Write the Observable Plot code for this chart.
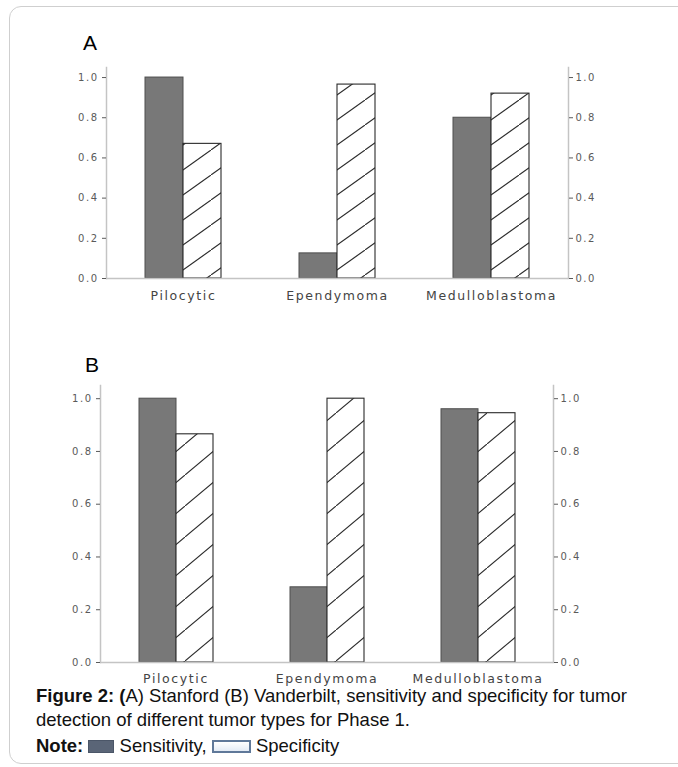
<!DOCTYPE html>
<html>
<head>
<meta charset="utf-8">
<script src="https://cdn.jsdelivr.net/npm/d3@7"></script>
<script src="https://cdn.jsdelivr.net/npm/@observablehq/plot@0.6"></script>
<style>
  html, body { margin: 0; padding: 0; background: #fff; }
  #page { position: relative; width: 678px; height: 767px; overflow: hidden; font-family: "Liberation Sans", Arial, sans-serif; }
  #border { position: absolute; left: 9px; top: 6px; width: 720px; height: 756px; border: 1px solid #cfcfcf; border-radius: 12px; }
  .panel-letter { position: absolute; font-size: 21px; line-height: 21px; color: #000; }
  .chart { position: absolute; left: 0; }
  .cap { position: absolute; left: 36px; font-size: 18.5px; line-height: 18px; color: #111; white-space: nowrap; }
  .sw { display: inline-block; vertical-align: -1px; box-sizing: border-box; }
  .sw-sens { width: 26px; height: 13px; background: #5a6577; border: 1px solid #4b5668; }
  .sw-spec { width: 39px; height: 13px; background: linear-gradient(#ffffff, #e3ebf5); border: 2px solid #5f7899; }
</style>
</head>
<body>
<div id="page">
  <div id="border"></div>
  <div class="panel-letter" style="left:83px; top:32px;">A</div>
  <div class="panel-letter" style="left:85px; top:354px;">B</div>
  <div id="chartA" class="chart" style="top:0px;"></div>
  <div id="chartB" class="chart" style="top:320px;"></div>
  <div class="cap" style="top:687px;"><b>Figure 2: (</b>A) Stanford (B) Vanderbilt, sensitivity and specificity for tumor</div>
  <div class="cap" style="top:711px;">detection of different tumor types for Phase 1.</div>
  <div class="cap" style="top:737px;"><b>Note:</b> <span class="sw sw-sens"></span> Sensitivity, <span class="sw sw-spec"></span> Specificity</div>
</div>
<script>
// ---- data ----
const categories = ["Pilocytic", "Ependymoma", "Medulloblastoma"];
const seriesNames = ["Sensitivity", "Specificity"];
const stanfordSensitivity = [1.0, 0.125, 0.80];
const stanfordSpecificity = [0.67, 0.965, 0.92];
const vanderbiltSensitivity = [1.0, 0.285, 0.96];
const vanderbiltSpecificity = [0.865, 1.0, 0.945];
const yTicks = [0, 0.2, 0.4, 0.6, 0.8, 1.0];

function rowsFor(sens, spec) {
  return categories.flatMap((c, i) => [
    {category: c, series: seriesNames[0], value: sens[i]},
    {category: c, series: seriesNames[1], value: spec[i]}
  ]);
}

function addHatch(svg, id, spacing, period) {
  const defs = d3.select(svg).insert("defs", ":first-child");
  const p = defs.append("pattern")
    .attr("id", id)
    .attr("patternUnits", "userSpaceOnUse")
    .attr("width", period)
    .attr("height", spacing);
  p.append("rect").attr("width", period).attr("height", spacing).attr("fill", "#fff");
  const m = spacing / period;
  p.append("line")
    .attr("x1", -2).attr("y1", spacing + 2 * m)
    .attr("x2", period + 2).attr("y2", -2 * m)
    .attr("stroke", "#2a2a2a").attr("stroke-width", 1.1);
}

function panel(el, sens, spec, o) {
  const rows = rowsFor(sens, spec);
  const axisStroke = "#c4c4c4";
  const svg = Plot.plot({
    width: 678,
    height: o.height,
    marginLeft: o.marginLeft,
    marginRight: o.marginRight,
    marginTop: o.marginTop,
    marginBottom: o.marginBottom,
    style: {background: "transparent", fontFamily: "DejaVu Sans, sans-serif", overflow: "visible"},
    fx: {domain: categories, padding: 0, label: null},
    x: {domain: seriesNames, paddingInner: 0, paddingOuter: 1, axis: null},
    y: {domain: [0, 1.05], axis: null},
    marks: [
      Plot.barY(rows.filter(d => d.series === "Sensitivity"),
        {fx: "category", x: "series", y: "value", fill: "#787878", stroke: "#4e4e4e", strokeWidth: 1, inset: 0}),
      Plot.barY(rows.filter(d => d.series === "Specificity"),
        {fx: "category", x: "series", y: "value", fill: `url(#${o.hatchId})`, stroke: "#2a2a2a", strokeWidth: 1.1, inset: 0}),
      Plot.ruleY([0], {stroke: axisStroke, strokeWidth: 1.5}),
      Plot.frame({anchor: "left", facetAnchor: "left", stroke: axisStroke, strokeWidth: 1.5}),
      Plot.frame({anchor: "right", facetAnchor: "right", stroke: axisStroke, strokeWidth: 1.5}),
      Plot.axisY({anchor: "left", ticks: yTicks, tickFormat: ".1f", tickSize: 4, tickPadding: 4,
        fontSize: 10, color: "#5a5a5a", label: null}),
      Plot.axisY({anchor: "right", ticks: yTicks, tickFormat: ".1f", tickSize: 4, tickPadding: 3,
        fontSize: 10, color: "#5a5a5a", label: null}),
      Plot.axisFx({anchor: "bottom", tickSize: 0, tickPadding: o.labelPad, fontSize: 12.5,
        color: "#444", label: null})
    ]
  });
  addHatch(svg, o.hatchId, o.hatchSpacing, o.hatchPeriod);
  d3.select(svg).selectAll("g[aria-label='fx-axis tick label'] text").style("letter-spacing", "1.6px");
  d3.select(svg).selectAll("g[aria-label='y-axis tick label'] text").style("letter-spacing", "1.5px");
  document.getElementById(el).appendChild(svg);
}

panel("chartA", stanfordSensitivity, stanfordSpecificity, {
  height: 310, marginTop: 67, marginBottom: 32, marginLeft: 105, marginRight: 110,
  labelPad: 13, hatchId: "hatchA", hatchSpacing: 25, hatchPeriod: 35
});
panel("chartB", vanderbiltSensitivity, vanderbiltSpecificity, {
  height: 370, marginTop: 65, marginBottom: 28, marginLeft: 100, marginRight: 125,
  labelPad: 12, hatchId: "hatchB", hatchSpacing: 31, hatchPeriod: 37
});
</script>
</body>
</html>
